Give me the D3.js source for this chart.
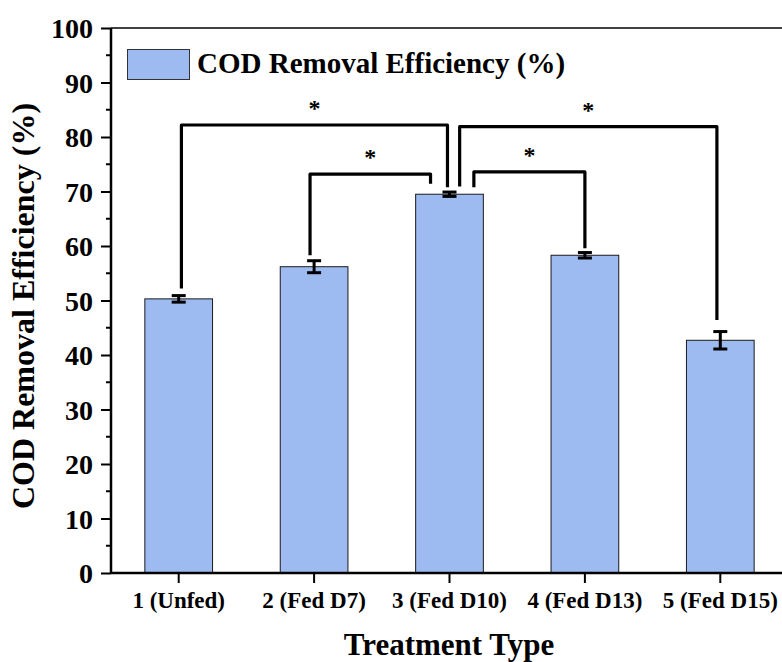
<!DOCTYPE html>
<html>
<head>
<meta charset="utf-8">
<script src="https://cdn.jsdelivr.net/npm/d3@7/dist/d3.min.js"></script>
<style>
  html, body { margin: 0; padding: 0; background: #fff; }
  svg { display: block; }
  text { font-family: "Liberation Serif", "Times New Roman", serif; font-weight: bold; fill: #000; }
</style>
</head>
<body>
<div id="chart"></div>
<script>
// ---- data ----
const categories = ["1 (Unfed)", "2 (Fed D7)", "3 (Fed D10)", "4 (Fed D13)", "5 (Fed D15)"];
const values = [50.3, 56.2, 69.5, 58.3, 42.7];
const errors = [0.6, 1.1, 0.4, 0.5, 1.6];
const yTicks = [0, 10, 20, 30, 40, 50, 60, 70, 80, 90, 100];
const seriesName = "COD Removal Efficiency (%)";
const xTitle = "Treatment Type";
const yTitle = "COD Removal Efficiency (%)";
// significance brackets: from/to category index, bracket level, leg bottoms (values), label
const bracketFrom = [0, 1, 2, 2];
const bracketTo = [2, 2, 4, 3];
const bracketLevel = [82.2, 73.2, 81.9, 73.6];
const bracketFromEnd = [52.2, 58.3, 70.9, 70.8];
const bracketToEnd = [70.8, 71.4, 46.4, 59.6];
const bracketFromShift = [0.02, -0.03, 0.075, 0.18];
const bracketToShift = [-0.015, -0.14, -0.025, 0.0];
const bracketLabel = ["*", "*", "*", "*"];

// ---- layout ----
const W = 782, H = 662;
const mLeft = 111, mTop = 28, mBottom = 573, mRight = 788;

const svg = d3.select("#chart").append("svg").attr("width", W).attr("height", H);

const x = d3.scaleBand().domain(categories).range([mLeft, mRight]).paddingInner(0.5).paddingOuter(0.25);
const y = d3.scaleLinear().domain([0, 100]).range([mBottom, mTop]);

// bars
svg.append("g").selectAll("rect").data(categories).join("rect")
  .attr("x", d => x(d))
  .attr("y", (d, i) => y(values[i]))
  .attr("width", x.bandwidth())
  .attr("height", (d, i) => y(0) - y(values[i]))
  .attr("fill", "#9dbbf1")
  .attr("stroke", "#1a1a1a")
  .attr("stroke-width", 1);

// error bars
const eb = svg.append("g").attr("stroke", "#000").attr("stroke-width", 3);
categories.forEach((c, i) => {
  const cx = x(c) + x.bandwidth() / 2;
  const y1 = y(values[i] + errors[i]), y2 = y(values[i] - errors[i]);
  eb.append("line").attr("x1", cx).attr("x2", cx).attr("y1", y1).attr("y2", y2);
  eb.append("line").attr("x1", cx - 7).attr("x2", cx + 7).attr("y1", y1).attr("y2", y1);
  eb.append("line").attr("x1", cx - 7).attr("x2", cx + 7).attr("y1", y2).attr("y2", y2);
});

// brackets
const br = svg.append("g");
bracketFrom.forEach((f, k) => {
  const step = x.step();
  const xa = x(categories[f]) + x.bandwidth() / 2 + bracketFromShift[k] * step;
  const xb = x(categories[bracketTo[k]]) + x.bandwidth() / 2 + bracketToShift[k] * step;
  const yl = y(bracketLevel[k]);
  br.append("path")
    .attr("d", `M${xa},${y(bracketFromEnd[k])}V${yl}H${xb}V${y(bracketToEnd[k])}`)
    .attr("fill", "none").attr("stroke", "#000").attr("stroke-width", 3.2)
    .attr("stroke-linejoin", "round");
  br.append("text").attr("x", (xa + xb) / 2).attr("y", yl - 9)
    .attr("text-anchor", "middle").attr("font-size", 24).text(bracketLabel[k]);
});

// y axis
const yAxis = svg.append("g").attr("transform", `translate(${mLeft},0)`)
  .call(d3.axisLeft(y).tickValues(yTicks).tickSize(10).tickPadding(8).tickFormat(d3.format("d")));
yAxis.select(".domain").remove();
yAxis.selectAll(".tick line").attr("stroke", "#000").attr("stroke-width", 2);
yAxis.selectAll(".tick text").attr("font-size", 28).attr("font-family", "Liberation Serif, serif").attr("font-weight", "bold").attr("fill", "#000").attr("dy", "0.34em");
// minor ticks
const minor = d3.range(5, 100, 10);
svg.append("g").selectAll("line").data(minor).join("line")
  .attr("x1", mLeft - 5).attr("x2", mLeft).attr("y1", d => y(d)).attr("y2", d => y(d))
  .attr("stroke", "#000").attr("stroke-width", 2);

// x axis
const xAxis = svg.append("g").attr("transform", `translate(0,${mBottom})`)
  .call(d3.axisBottom(x).tickSize(10).tickPadding(9));
xAxis.select(".domain").remove();
xAxis.selectAll(".tick line").attr("stroke", "#000").attr("stroke-width", 2);
xAxis.selectAll(".tick text").attr("font-size", 23).attr("font-family", "Liberation Serif, serif").attr("font-weight", "bold").attr("fill", "#000");

// frame lines
svg.append("line").attr("x1", mLeft).attr("x2", W).attr("y1", mBottom).attr("y2", mBottom).attr("stroke", "#000").attr("stroke-width", 2.5);
svg.append("line").attr("x1", mLeft).attr("x2", mLeft).attr("y1", mTop).attr("y2", mBottom + 1).attr("stroke", "#000").attr("stroke-width", 2.5);
svg.append("line").attr("x1", mLeft).attr("x2", W).attr("y1", mTop).attr("y2", mTop).attr("stroke", "#000").attr("stroke-width", 1.5);

// axis titles
svg.append("text").attr("x", 449).attr("y", 655).attr("text-anchor", "middle").attr("font-size", 31).text(xTitle);
svg.append("text").attr("transform", `translate(34,306) rotate(-90)`).attr("text-anchor", "middle").attr("font-size", 32).text(yTitle);

// legend
const lg = svg.append("g");
lg.append("rect").attr("x", 127.5).attr("y", 49.5).attr("width", 62).attr("height", 30)
  .attr("fill", "#9dbbf1").attr("stroke", "#333").attr("stroke-width", 1);
lg.append("text").attr("x", 197).attr("y", 73).attr("font-size", 29).text(seriesName);
</script>
</body>
</html>
